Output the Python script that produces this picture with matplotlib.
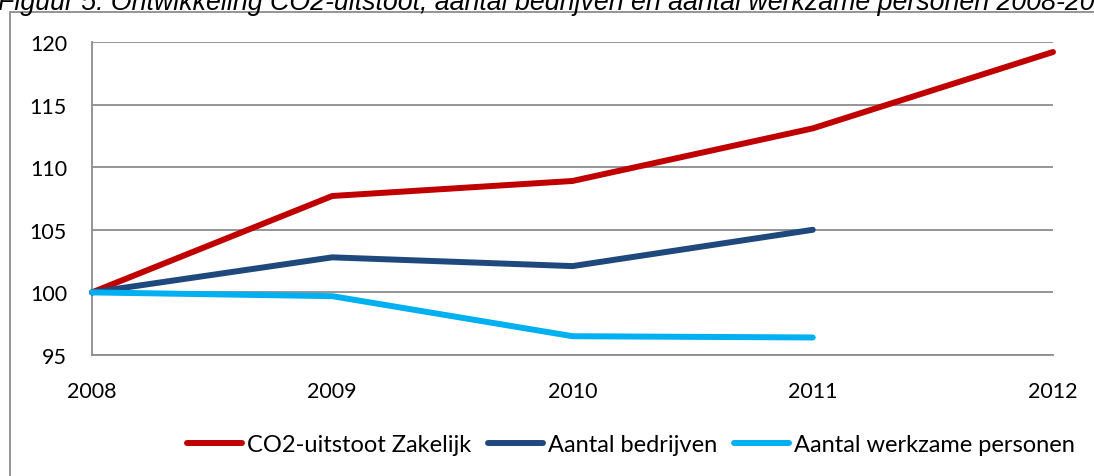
import matplotlib.pyplot as plt
from matplotlib.patches import Rectangle

# Data (index 2008 = 100)
years = [2008, 2009, 2010, 2011, 2012]
co2_zakelijk = [100, 107.7, 108.9, 113.1, 119.2]
bedrijven_years = [2008, 2009, 2010, 2011]
aantal_bedrijven = [100, 102.8, 102.1, 105.0]
werkzame_personen = [100, 99.7, 96.5, 96.4]
y_ticks = [95, 100, 105, 110, 115, 120]

title = ("Figuur 5: Ontwikkeling CO2-uitstoot, aantal bedrijven en aantal "
         "werkzame personen 2008-2012")
labels = ["CO2-uitstoot Zakelijk", "Aantal bedrijven", "Aantal werkzame personen"]
colors = ["#C00000", "#1F497D", "#00B0F0"]
grid_color = "#8C8C8C"

W, H = 1094, 477
fig = plt.figure(figsize=(W / 100, H / 100), dpi=100)
ax = fig.add_axes([92 / W, 1 - 356 / H, (1053 - 92) / W, (356 - 43) / H])

# outer chart frame (runs off the right and bottom of the crop)
fig.patches.append(Rectangle((10 / W, -0.2), 2, 1 - 13 / H + 0.2,
                             transform=fig.transFigure, fill=False,
                             edgecolor=grid_color, linewidth=1.3))

fig.text(-0.002, 1 - 10 / H, title, ha="left", va="baseline",
         fontsize=19.3, style="italic", family=["Liberation Sans", "DejaVu Sans"])

lw = 4.3
ax.plot(years, co2_zakelijk, color=colors[0], lw=lw, label=labels[0],
        solid_capstyle="round", clip_on=False, zorder=3)
ax.plot(bedrijven_years, aantal_bedrijven, color=colors[1], lw=lw, label=labels[1],
        solid_capstyle="round", clip_on=False, zorder=3)
ax.plot(bedrijven_years, werkzame_personen, color=colors[2], lw=lw, label=labels[2],
        solid_capstyle="round", clip_on=False, zorder=3)

ax.set_xlim(2008, 2012)
ax.set_ylim(95, 120)
ax.set_xticks(years)
ax.set_yticks(y_ticks)
ax.yaxis.grid(True, color=grid_color, lw=1.3)
ax.set_axisbelow(True)
for s in ["top", "right"]:
    ax.spines[s].set_visible(False)
for s in ["left", "bottom"]:
    ax.spines[s].set_color(grid_color)
    ax.spines[s].set_linewidth(1.3)
ax.tick_params(axis="both", length=0, labelsize=15.5)
ax.tick_params(axis="y", pad=18)
ax.tick_params(axis="x", pad=18.5)
for lab in ax.get_xticklabels() + ax.get_yticklabels():
    lab.set_family(["Lato", "DejaVu Sans"])

leg = ax.legend(loc="center left", bbox_to_anchor=(187 / W, 1 - 446 / H),
                bbox_transform=fig.transFigure, ncol=3, frameon=False,
                borderpad=0, borderaxespad=0, handlelength=2.33,
                handletextpad=0.21, columnspacing=0.72,
                prop={"family": ["Lato", "DejaVu Sans"], "size": 17})

fig.savefig("out.png", dpi=100)
